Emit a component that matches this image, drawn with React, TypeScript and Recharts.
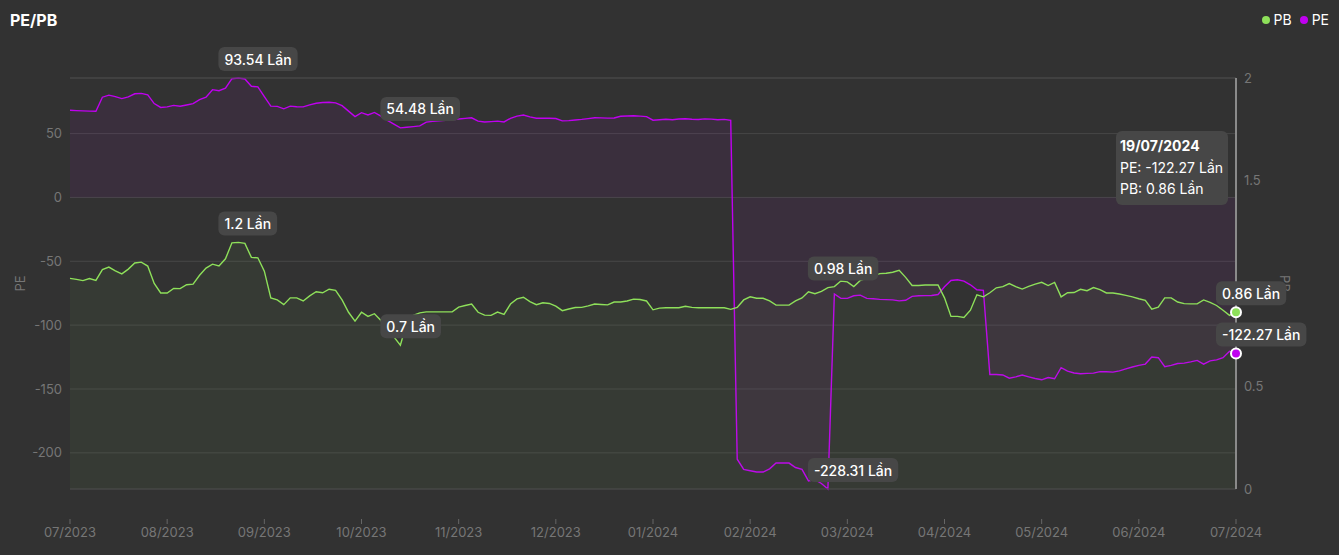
import React from 'react';
import {
  AreaChart,
  Area,
  XAxis,
  YAxis,
  CartesianGrid,
  Tooltip,
  ReferenceLine,
  LabelList,
} from 'recharts';

// tick labels of the x axis (one per month, evenly spread over the points)
const monthTicks = [
  '07/2023', '08/2023', '09/2023', '10/2023', '11/2023', '12/2023', '01/2024',
  '02/2024', '03/2024', '04/2024', '05/2024', '06/2024', '07/2024',
];
const lastDate = '19/07/2024';

const peValues = [
  68.3, 68.0, 67.8, 67.6, 67.5, 78.5, 80.1, 79.0, 77.4, 78.8,
  81.2, 81.5, 80.3, 73.5, 70.5, 70.9, 72.1, 71.4, 72.4, 73.5,
  76.6, 78.5, 84.4, 83.6, 85.5, 93.0, 93.54, 92.8, 87.1, 86.6,
  79.0, 71.5, 71.3, 69.4, 71.5, 71.0, 70.9, 72.5, 73.8, 74.3,
  74.5, 74.1, 71.9, 67.6, 63.3, 66.4, 64.6, 66.6, 63.7, 60.4,
  57.5, 54.48, 55.0, 55.5, 56.0, 59.0, 59.6, 60.1, 60.5, 60.9,
  61.4, 61.9, 62.4, 59.8, 59.1, 59.4, 59.8, 59.1, 62.0, 63.7,
  64.6, 63.1, 62.0, 62.0, 62.0, 61.8, 60.0, 60.2, 60.7, 61.1,
  61.7, 62.4, 62.3, 62.1, 62.2, 63.6, 63.8, 64.0, 63.7, 63.3,
  60.5, 60.8, 61.2, 60.9, 61.4, 61.6, 61.2, 61.0, 61.5, 61.3,
  60.8, 61.1, 60.4, -205.0, -213.0, -214.0, -215.0, -215.0, -212.5, -208.0,
  -208.0, -208.0, -211.5, -213.0, -222.0, -221.0, -224.0, -228.31, -75.6, -79.0,
  -79.0, -77.0, -76.5, -79.0, -79.3, -79.8, -80.0, -80.2, -81.0, -80.5,
  -77.5, -77.0, -76.9, -76.8, -76.0, -70.0, -65.0, -64.5, -65.5, -68.4,
  -72.3, -72.8, -138.6, -138.6, -139.0, -141.5, -140.5, -139.1, -140.5, -141.8,
  -142.8, -141.0, -142.0, -133.3, -136.0, -137.5, -138.0, -137.8, -137.6, -136.4,
  -136.5, -136.8, -135.8, -134.3, -132.8, -131.5, -130.5, -125.0, -125.5, -132.5,
  -131.5, -130.0, -129.7, -128.8, -127.6, -130.5, -128.0, -127.2, -125.5, -120.5,
  -122.27,
];

const pbValues = [
  1.025, 1.02, 1.014, 1.024, 1.015, 1.068, 1.08, 1.061, 1.047, 1.07,
  1.1, 1.104, 1.085, 1.0, 0.954, 0.954, 0.976, 0.975, 0.994, 0.997,
  1.04, 1.075, 1.094, 1.085, 1.12, 1.198, 1.2, 1.195, 1.127, 1.125,
  1.06, 0.93, 0.92, 0.897, 0.93, 0.93, 0.915, 0.94, 0.96, 0.955,
  0.972, 0.967, 0.92, 0.86, 0.817, 0.86, 0.84, 0.853, 0.82, 0.78,
  0.74, 0.7, 0.81, 0.845, 0.857, 0.862, 0.862, 0.862, 0.862, 0.862,
  0.885, 0.893, 0.9, 0.86, 0.846, 0.845, 0.861, 0.85, 0.9, 0.925,
  0.933, 0.912, 0.897, 0.906, 0.903, 0.89, 0.868, 0.876, 0.883, 0.884,
  0.891, 0.9, 0.898, 0.896, 0.91, 0.91, 0.915, 0.924, 0.922, 0.915,
  0.872, 0.88, 0.882, 0.882, 0.882, 0.889, 0.884, 0.882, 0.882, 0.882,
  0.882, 0.882, 0.874, 0.884, 0.92, 0.935, 0.928, 0.928, 0.915, 0.895,
  0.895, 0.895, 0.915, 0.93, 0.96, 0.95, 0.962, 0.98, 0.985, 1.012,
  1.008, 0.985, 1.015, 1.025, 1.036, 1.048, 1.05, 1.055, 1.064, 1.03,
  0.99, 0.99, 0.993, 0.993, 0.993, 0.93, 0.84, 0.84, 0.835, 0.87,
  0.945, 0.935, 0.955, 0.979, 0.985, 1.0, 0.985, 0.973, 0.986, 0.997,
  1.006, 0.99, 1.005, 0.935, 0.955, 0.956, 0.972, 0.965, 0.98, 0.97,
  0.954, 0.954, 0.949, 0.942, 0.935, 0.926, 0.918, 0.875, 0.885, 0.93,
  0.93, 0.91, 0.902, 0.901, 0.901, 0.92, 0.908, 0.893, 0.87, 0.845,
  0.86,
];

// points that carry a value badge (PE max, PB min, PE min, last day)
const markIndices = [26, 51, 117, 180];

const peTicks = [-200, -150, -100, -50, 0, 50];
// the "1" tick sits under the last-day badge in the reference, so it is not listed
const pbTicks = [0, 0.5, 1.5, 2];

const PE_COLOR = '#c000f0';
const PB_COLOR = '#8ee05a';
const GRID = '#474747';
const TICK = '#767676';
const FONT = 'Inter, "Noto Sans", sans-serif';

const data = peValues.map((pe, i) => ({ idx: i, pe, pb: pbValues[i] }));
const step = (data.length - 1) / (monthTicks.length - 1);
const xTicks = monthTicks.map((_, k) => k * step);
const peMax = Math.max(...peValues);
const peMin = Math.min(...peValues);

let ctx: CanvasRenderingContext2D | null = null;
function textWidth(s: string) {
  if (!ctx) ctx = document.createElement('canvas').getContext('2d');
  if (!ctx) return s.length * 7.5;
  ctx.font = `500 14px ${FONT}`;
  return ctx.measureText(s).width;
}

const fmt = (v: number) => `${v} Lần`;

function markLabel(props: any) {
  const index = props.index;
  if (!markIndices.includes(index)) return null;
  const x = props.x ?? props.viewBox?.x;
  const y = props.y ?? props.viewBox?.y;
  if (x == null || y == null) return null;
  const text = fmt(props.value);
  const w = textWidth(text) + 12;
  return (
    <g>
      <rect x={x - 20} y={y - 31} width={w} height={24} rx={6} fill="#474747" />
      <text
        x={x - 14}
        y={y - 19}
        dominantBaseline="central"
        fill="#ffffff"
        fontSize={14}
        fontWeight={500}
        fontFamily={FONT}
      >
        {text}
      </text>
    </g>
  );
}

function XTick(props: any) {
  const { x, y, payload } = props;
  const label = monthTicks[Math.round(payload.value / step)];
  return (
    <g>
      <line x1={x} x2={x} y1={y + 22} y2={y + 27} stroke="#666" />
      <text x={x} y={y + 40} textAnchor="middle" fill={TICK} fontSize={13} fontFamily={FONT}>
        {label}
      </text>
    </g>
  );
}

function TipBox({ active, payload }: any) {
  if (!active || !payload || !payload.length) return null;
  const row = payload[0].payload;
  const date = row.idx === data.length - 1 ? lastDate : monthTicks[Math.round(row.idx / step)];
  return (
    <div
      style={{
        background: '#474747',
        borderRadius: 6,
        padding: '4px 5px 5px 4px',
        color: '#fff',
        fontSize: 14,
        lineHeight: '21.5px',
        fontFamily: FONT,
        whiteSpace: 'nowrap',
      }}
    >
      <div style={{ fontWeight: 700 }}>{date}</div>
      <div>PE: {fmt(row.pe)}</div>
      <div>PB: {fmt(row.pb)}</div>
    </div>
  );
}

export default function App() {
  return (
    <div
      style={{
        position: 'fixed',
        left: 0,
        top: 0,
        width: 1339,
        height: 555,
        background: '#323232',
        fontFamily: FONT,
      }}
    >
      <div
        style={{
          position: 'absolute',
          left: 10,
          top: 10,
          color: '#fff',
          fontWeight: 700,
          fontSize: 16,
          zIndex: 2,
        }}
      >
        PE/PB
      </div>
      <div
        style={{
          position: 'absolute',
          right: 10,
          top: 11,
          display: 'flex',
          alignItems: 'center',
          gap: 4,
          color: '#fff',
          fontSize: 14,
          zIndex: 2,
        }}
      >
        <span style={{ width: 8, height: 8, borderRadius: 4, background: PB_COLOR }} />
        <span style={{ marginRight: 4 }}>PB</span>
        <span style={{ width: 8, height: 8, borderRadius: 4, background: PE_COLOR }} />
        <span>PE</span>
      </div>
      <AreaChart
        width={1339}
        height={555}
        data={data}
        margin={{ top: 78, right: 0, bottom: 0, left: 0 }}
      >
        <CartesianGrid yAxisId="pe" vertical={false} stroke={GRID} />
        <XAxis
          dataKey="idx"
          type="category"
          scale="point"
          ticks={xTicks}
          interval={0}
          height={66}
          axisLine={false}
          tickLine={false}
          tick={<XTick />}
        />
        <YAxis
          yAxisId="pe"
          orientation="left"
          width={70}
          domain={[peMin, peMax]}
          ticks={peTicks}
          axisLine={false}
          tickLine={false}
          tick={{ fill: TICK, fontSize: 13, fontFamily: FONT }}
          label={{ value: 'PE', angle: -90, position: 'center', dx: -15, fill: TICK, fontSize: 13 }}
        />
        <YAxis
          yAxisId="pb"
          orientation="right"
          width={103}
          domain={[0, 2]}
          ticks={pbTicks}
          axisLine={false}
          tickLine={false}
          tick={{ fill: TICK, fontSize: 13, fontFamily: FONT }}
          label={{ value: 'PB', angle: 90, position: 'center', dx: -3, fill: TICK, fontSize: 13 }}
        />
        <ReferenceLine yAxisId="pe" y={peMax} stroke={GRID} />
        <ReferenceLine yAxisId="pe" y={peMin} stroke={GRID} />
        <Area
          yAxisId="pe"
          dataKey="pe"
          type="linear"
          stroke={PE_COLOR}
          strokeWidth={1.4}
          fill={PE_COLOR}
          fillOpacity={0.06}
          dot={false}
          activeDot={{ r: 5, fill: PE_COLOR, stroke: '#fff', strokeWidth: 2 }}
          isAnimationActive={false}
        >
          <LabelList dataKey="pe" content={markLabel} />
        </Area>
        <Area
          yAxisId="pb"
          dataKey="pb"
          type="linear"
          stroke={PB_COLOR}
          strokeWidth={1.4}
          fill={PB_COLOR}
          fillOpacity={0.05}
          dot={false}
          activeDot={{ r: 5, fill: PB_COLOR, stroke: '#fff', strokeWidth: 2 }}
          isAnimationActive={false}
        >
          <LabelList dataKey="pb" content={markLabel} />
        </Area>
        <Tooltip
          defaultIndex={data.length - 1}
          content={<TipBox />}
          cursor={{ stroke: '#8a8a8a', strokeWidth: 2 }}
          position={{ x: 1116, y: 131 }}
          isAnimationActive={false}
          wrapperStyle={{ zIndex: 3 }}
        />
      </AreaChart>
    </div>
  );
}
